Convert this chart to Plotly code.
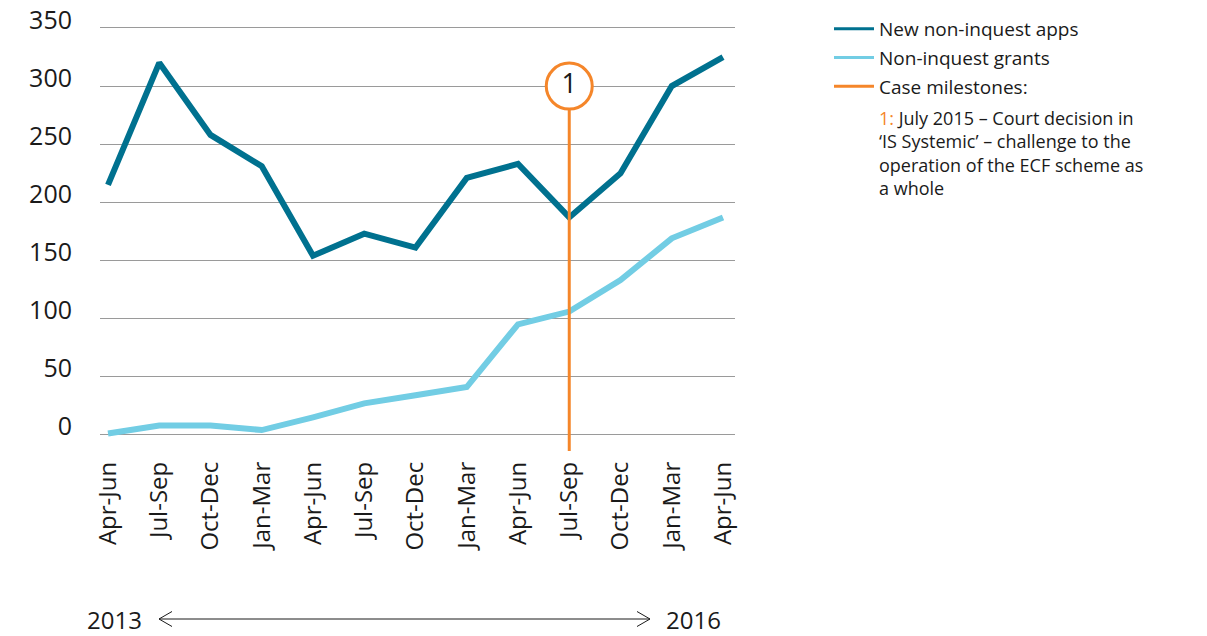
import plotly.graph_objects as go

categories = ["Apr-Jun", "Jul-Sep", "Oct-Dec", "Jan-Mar", "Apr-Jun", "Jul-Sep", "Oct-Dec",
              "Jan-Mar", "Apr-Jun", "Jul-Sep", "Oct-Dec", "Jan-Mar", "Apr-Jun"]
new_apps = [215, 320, 258, 231, 154, 173, 161, 221, 233, 187, 225, 300, 325]
grants = [1, 8, 8, 4, 15, 27, 34, 41, 95, 106, 133, 169, 187]
milestone_idx = 9
milestone_label = "1"
milestone_y = 300
y_ticks = [0, 50, 100, 150, 200, 250, 300, 350]
series_names = ["New non-inquest apps", "Non-inquest grants", "Case milestones:"]
note_lines = ["July 2015 – Court decision in", "‘IS Systemic’ – challenge to the",
              "operation of the ECF scheme as", "a whole"]

FONT = "Open Sans"
DARK = "#00718f"
LIGHT = "#72cde4"
ORANGE = "#f5862a"
TXT = "#1a1a1a"

xi = list(range(len(categories)))

fig = go.Figure()
fig.add_trace(go.Scatter(x=xi, y=new_apps, mode="lines", name=series_names[0],
                         line=dict(color=DARK, width=6), showlegend=False))
fig.add_trace(go.Scatter(x=xi, y=grants, mode="lines", name=series_names[1],
                         line=dict(color=LIGHT, width=6), showlegend=False))
fig.add_trace(go.Scatter(x=[milestone_idx, milestone_idx], y=[-14, milestone_y], mode="lines",
                         name=series_names[2], line=dict(color=ORANGE, width=3), showlegend=False))
fig.add_trace(go.Scatter(x=[milestone_idx], y=[milestone_y], mode="markers+text",
                         text=[milestone_label], textposition="middle center",
                         textfont=dict(family=FONT, size=27, color=TXT),
                         marker=dict(size=46, color="white", line=dict(color=ORANGE, width=3)),
                         showlegend=False, hoverinfo="skip"))
# legend entries (thin sample lines like the reference key)
for name, col, grp in zip(series_names, [DARK, LIGHT, ORANGE], ["a", "b", "c"]):
    fig.add_trace(go.Scatter(x=[None], y=[None], mode="lines", name=name,
                             line=dict(color=col, width=3), legendgroup=grp, showlegend=True))

L, R, T, B = 100, 735, 21, 451
W, H = 1207, 636

fig.update_layout(
    width=W, height=H,
    margin=dict(l=L, r=W - R, t=T, b=H - B, pad=0, autoexpand=False),
    paper_bgcolor="white", plot_bgcolor="white",
    font=dict(family=FONT, color=TXT),
    xaxis=dict(range=[-0.156, 12.234], tickvals=xi, ticktext=categories, tickangle=-90,
               showgrid=False, zeroline=False, showline=False, ticks="", automargin=False,
               tickfont=dict(size=24), ticklabelstandoff=5),
    yaxis=dict(range=[-14, 356], tickvals=y_ticks, showgrid=True, gridcolor="#9a9a9a",
               gridwidth=1, zeroline=False, showline=False, ticks="", automargin=False,
               tickfont=dict(size=25), ticklabelstandoff=27, ticklabelshift=-8),
    legend=dict(xref="container", yref="container", x=829 / W, y=1 - 10 / H,
                xanchor="left", yanchor="top", font=dict(size=19, color=TXT),
                tracegroupgap=1, itemwidth=40, bgcolor="rgba(0,0,0,0)"),
    showlegend=True,
)

def px(xp):
    return (xp - L) / (R - L)

def py(yp):
    return (B - yp) / (B - T)

note_text = f"<span style='color:{ORANGE}'>1:</span> " + "<br>".join(note_lines)
fig.add_annotation(xref="paper", yref="paper", x=px(877), y=py(104), xanchor="left",
                   yanchor="top", align="left", showarrow=False,
                   font=dict(size=18, color=TXT), text=note_text)

fig.add_annotation(xref="paper", yref="paper", x=px(144), y=py(619), xanchor="right", yanchor="middle",
                   showarrow=False, font=dict(size=24), text="2013")
fig.add_annotation(xref="paper", yref="paper", x=px(664), y=py(619), xanchor="left", yanchor="middle",
                   showarrow=False, font=dict(size=24), text="2016")
ay = py(619)
fig.add_shape(type="line", xref="paper", yref="paper", x0=px(159), x1=px(650), y0=ay, y1=ay,
              line=dict(color=TXT, width=1))
fig.add_shape(type="path", xref="paper", yref="paper",
              path=f"M {px(172)} {py(611.5)} L {px(159)} {ay} L {px(172)} {py(626.5)}",
              line=dict(color=TXT, width=1))
fig.add_shape(type="path", xref="paper", yref="paper",
              path=f"M {px(637)} {py(611.5)} L {px(650)} {ay} L {px(637)} {py(626.5)}",
              line=dict(color=TXT, width=1))

fig.write_html("out.html", config={"displayModeBar": False},
               post_script="document.body.style.margin='0';document.body.style.overflow='hidden';")
